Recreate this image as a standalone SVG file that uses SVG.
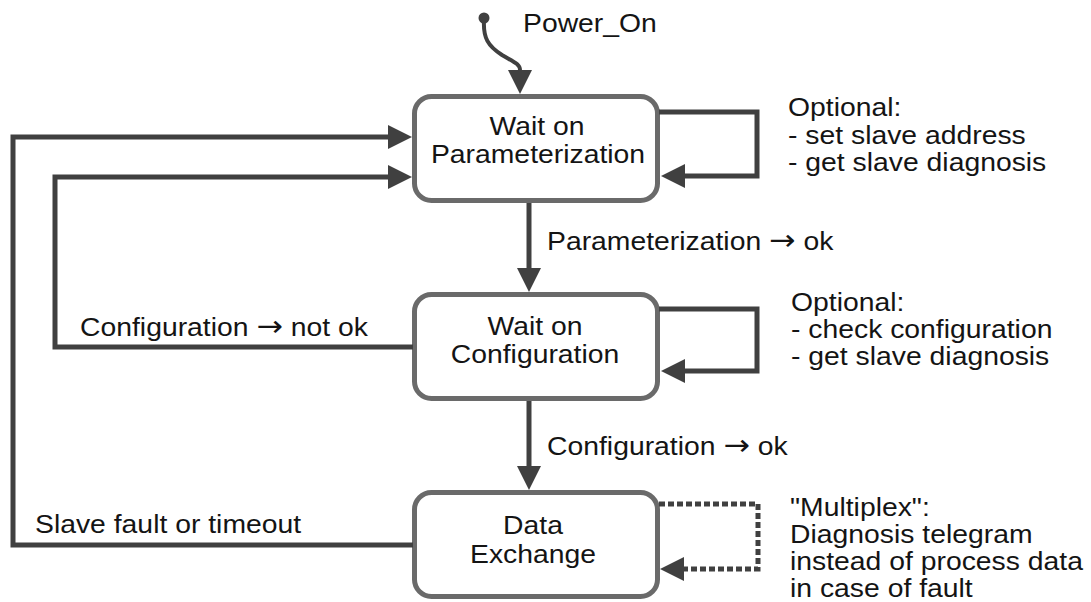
<svg xmlns="http://www.w3.org/2000/svg" width="1091" height="602" viewBox="0 0 1091 602">
  <style>
    .box { fill: #ffffff; stroke: #6a6a6a; stroke-width: 5; }
    .wire { fill: none; stroke: #404040; stroke-width: 5; }
    .dashed { stroke-dasharray: 6 3; }
    .label { font-family: "Liberation Sans", Arial, sans-serif; font-size: 26px; fill: #141414; }
    .mid { text-anchor: middle; }
    .arrow { font-family: "DejaVu Sans", sans-serif; font-size: 29px; }
  </style>
  <defs>
    <marker id="head" markerUnits="userSpaceOnUse" markerWidth="24" markerHeight="24" refX="0" refY="12" orient="auto" viewBox="0 0 24 24">
      <path d="M0,0 L24,12 L0,24 z" fill="#404040" stroke="none"/>
    </marker>
  </defs>

  <rect width="1091" height="602" fill="#ffffff"/>

  <!-- states -->
  <g id="wait-param">
    <rect class="box" x="414.5" y="96.5" width="243" height="104" rx="17"/>
    <text class="label mid" transform="translate(537 135) scale(1.09 1)">Wait on</text>
    <text class="label mid" transform="translate(538 163) scale(1.09 1)">Parameterization</text>
  </g>
  <g id="wait-config">
    <rect class="box" x="414.5" y="294.5" width="243" height="104" rx="17"/>
    <text class="label mid" transform="translate(535 335) scale(1.09 1)">Wait on</text>
    <text class="label mid" transform="translate(535 363) scale(1.09 1)">Configuration</text>
  </g>
  <g id="data-exchange">
    <rect class="box" x="414.5" y="492.5" width="243" height="104" rx="17"/>
    <text class="label mid" transform="translate(533 534) scale(1.09 1)">Data</text>
    <text class="label mid" transform="translate(533 563) scale(1.09 1)">Exchange</text>
  </g>

  <!-- transitions -->
  <g id="connectors">
    <!-- power on entry -->
    <circle cx="484" cy="18" r="5.5" fill="#404040"/>
    <path class="wire" style="stroke-width:4" d="M484,20 C483,38 488,46 502,55 C514,62 520,64 520,70" marker-end="url(#head)"/>
    <!-- forward transitions -->
    <path class="wire" d="M529,203 V268" marker-end="url(#head)"/>
    <path class="wire" d="M529,401 V466" marker-end="url(#head)"/>
    <!-- fall back paths -->
    <path class="wire" d="M413,347 H55 V177 H388" marker-end="url(#head)"/>
    <path class="wire" d="M413,545 H13 V137 H388" marker-end="url(#head)"/>
    <!-- self loops -->
    <path class="wire" d="M659,112 H757 V176 H685" marker-end="url(#head)"/>
    <path class="wire" d="M659,309 H757 V371 H685" marker-end="url(#head)"/>
    <path class="wire dashed" d="M659,504 H758 V569 H684" marker-end="url(#head)"/>
  </g>

  <!-- transition labels and notes -->
  <g id="labels">
    <text class="label" transform="translate(523 32) scale(1.09 1)">Power_On</text>
    <text class="label" transform="translate(547 250) scale(1.09 1)">Parameterization <tspan class="arrow">→</tspan> ok</text>
    <text class="label" transform="translate(547 455) scale(1.09 1)">Configuration <tspan class="arrow">→</tspan> ok</text>
    <text class="label" transform="translate(80 336) scale(1.09 1)">Configuration <tspan class="arrow">→</tspan> not ok</text>
    <text class="label" transform="translate(35 533) scale(1.09 1)">Slave fault or timeout</text>

    <text class="label" transform="translate(788 116) scale(1.09 1)">Optional:</text>
    <text class="label" transform="translate(788 144) scale(1.09 1)">- set slave address</text>
    <text class="label" transform="translate(788 171) scale(1.09 1)">- get slave diagnosis</text>

    <text class="label" transform="translate(791 311) scale(1.09 1)">Optional:</text>
    <text class="label" transform="translate(791 338) scale(1.09 1)">- check configuration</text>
    <text class="label" transform="translate(791 365) scale(1.09 1)">- get slave diagnosis</text>

    <text class="label" transform="translate(790 516) scale(1.09 1)">"Multiplex":</text>
    <text class="label" transform="translate(790 543) scale(1.09 1)">Diagnosis telegram</text>
    <text class="label" transform="translate(790 570) scale(1.09 1)">instead of process data</text>
    <text class="label" transform="translate(790 597) scale(1.09 1)">in case of fault</text>
  </g>
</svg>
